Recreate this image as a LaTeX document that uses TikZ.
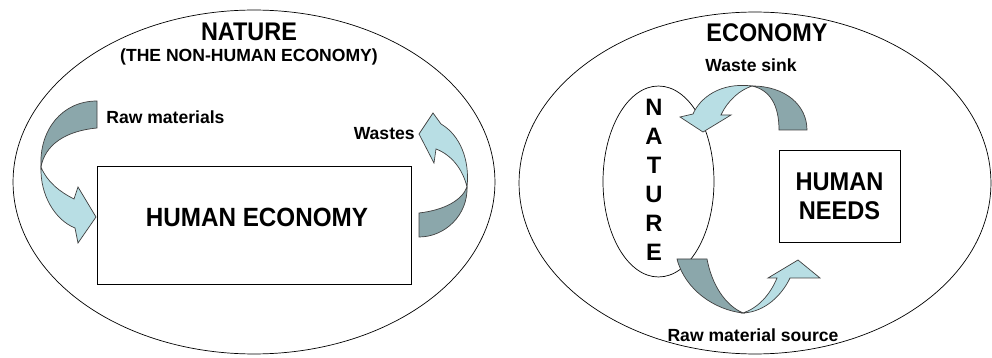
\documentclass[tikz,border=0pt]{standalone}
\usepackage{fontspec}
\setmainfont{Liberation Sans}
\newfontfamily\condfont[FakeStretch=0.92]{Liberation Sans}
\usepackage{xcolor}
\definecolor{ribdark}{RGB}{139,167,171}
\definecolor{riblight}{RGB}{184,222,228}
\usetikzlibrary{shapes.geometric}

\begin{document}
\begin{tikzpicture}[x=0.02cm, y=-0.02cm,
  oval/.style={ellipse, draw, thin, inner sep=0pt},
  frame/.style={rectangle, draw, thin, inner sep=0pt, align=center},
  title/.style={font=\condfont\bfseries\fontsize{14.5}{16}\selectfont, inner sep=0pt},
  lbl/.style={font=\bfseries\fontsize{10}{12}\selectfont, inner sep=0pt},
  back/.style={fill=ribdark, draw=black!75, line width=0.4pt},
  front/.style={fill=riblight, draw=black!75, line width=0.4pt}
]
  \useasboundingbox (0,0) rectangle (992,358);

  % left: nature holds the human economy
  \node[oval, minimum width=9.64cm, minimum height=6.88cm] (nat) at (254,182) {};
  \node[frame, minimum width=6.28cm, minimum height=2.36cm] (he) at (254,225) {};
  \node[title] (natlbl) at (249,32) {NATURE};
  \node[title, font=\bfseries\fontsize{10}{12}\selectfont] (nonhum) at (249,57) {(THE NON-HUMAN ECONOMY)};
  \node[title, font=\condfont\bfseries\fontsize{15}{17}\selectfont] (helbl) at (257,217) {HUMAN ECONOMY};
  \node[lbl, anchor=west] (raw) at (106,117) {Raw materials};
  \node[lbl, anchor=east] (wastes) at (415,134) {Wastes};

  \draw[back] (97,101) .. controls (62,101) and (39,130) .. (41,167)
    .. controls (45,145) and (65,131) .. (97,128) -- cycle;
  \draw[front] (41,167) .. controls (40,195) and (55,220) .. (75,228) -- (78,243) -- (96,217)
    -- (78,187) -- (74,199) .. controls (60,192) and (47,182) .. (41,167) -- cycle;

  \draw[back] (419,213) .. controls (445,210) and (462,200) .. (467,187)
    .. controls (468,215) and (445,237) .. (419,237) -- cycle;
  \draw[front] (467,187) .. controls (470,160) and (460,135) .. (441,124) -- (433,113) -- (419,134)
    -- (434,163) -- (436,149) .. controls (452,155) and (463,170) .. (467,187) -- cycle;

  % right: the economy holds nature
  \node[oval, minimum width=9.44cm, minimum height=6.84cm] (eco) at (755,183) {};
  \node[oval, minimum width=2.22cm, minimum height=3.82cm] (nat2) at (658.5,181.5) {};
  \node[frame, minimum width=2.42cm, minimum height=1.84cm,
        font=\condfont\bfseries\fontsize{14.6}{16.5}\selectfont] (needs) at (839.5,196) {HUMAN\\NEEDS};
  \node[title] (ecolbl) at (767,33) {ECONOMY};
  \node[lbl] (sink) at (751,65) {Waste sink};
  \node[lbl] (source) at (753,335) {Raw material source};
  \node[font=\bfseries\fontsize{13.5}{16.5}\selectfont, align=center, inner sep=0pt]
    (natv) at (654,180) {N\\A\\T\\U\\R\\E};

  \draw[back] (779,130) -- (807,130) .. controls (807,105) and (785,86) .. (752,86)
    .. controls (770,90) and (779,105) .. (779,130) -- cycle;
  \draw[front] (752,86) .. controls (720,82) and (700,98) .. (693,114) -- (680,117) -- (703,132)
    -- (731,115) -- (721,115) .. controls (728,100) and (740,90) .. (752,86) -- cycle;

  \draw[back] (677,259) -- (707,259) .. controls (712,285) and (725,305) .. (743,313)
    .. controls (715,310) and (685,290) .. (677,259) -- cycle;
  \draw[front] (743,313) .. controls (765,312) and (782,295) .. (790,278) -- (820,278) -- (798,260)
    -- (768,278) -- (777,278) .. controls (770,295) and (758,308) .. (743,313) -- cycle;
\end{tikzpicture}
\end{document}
